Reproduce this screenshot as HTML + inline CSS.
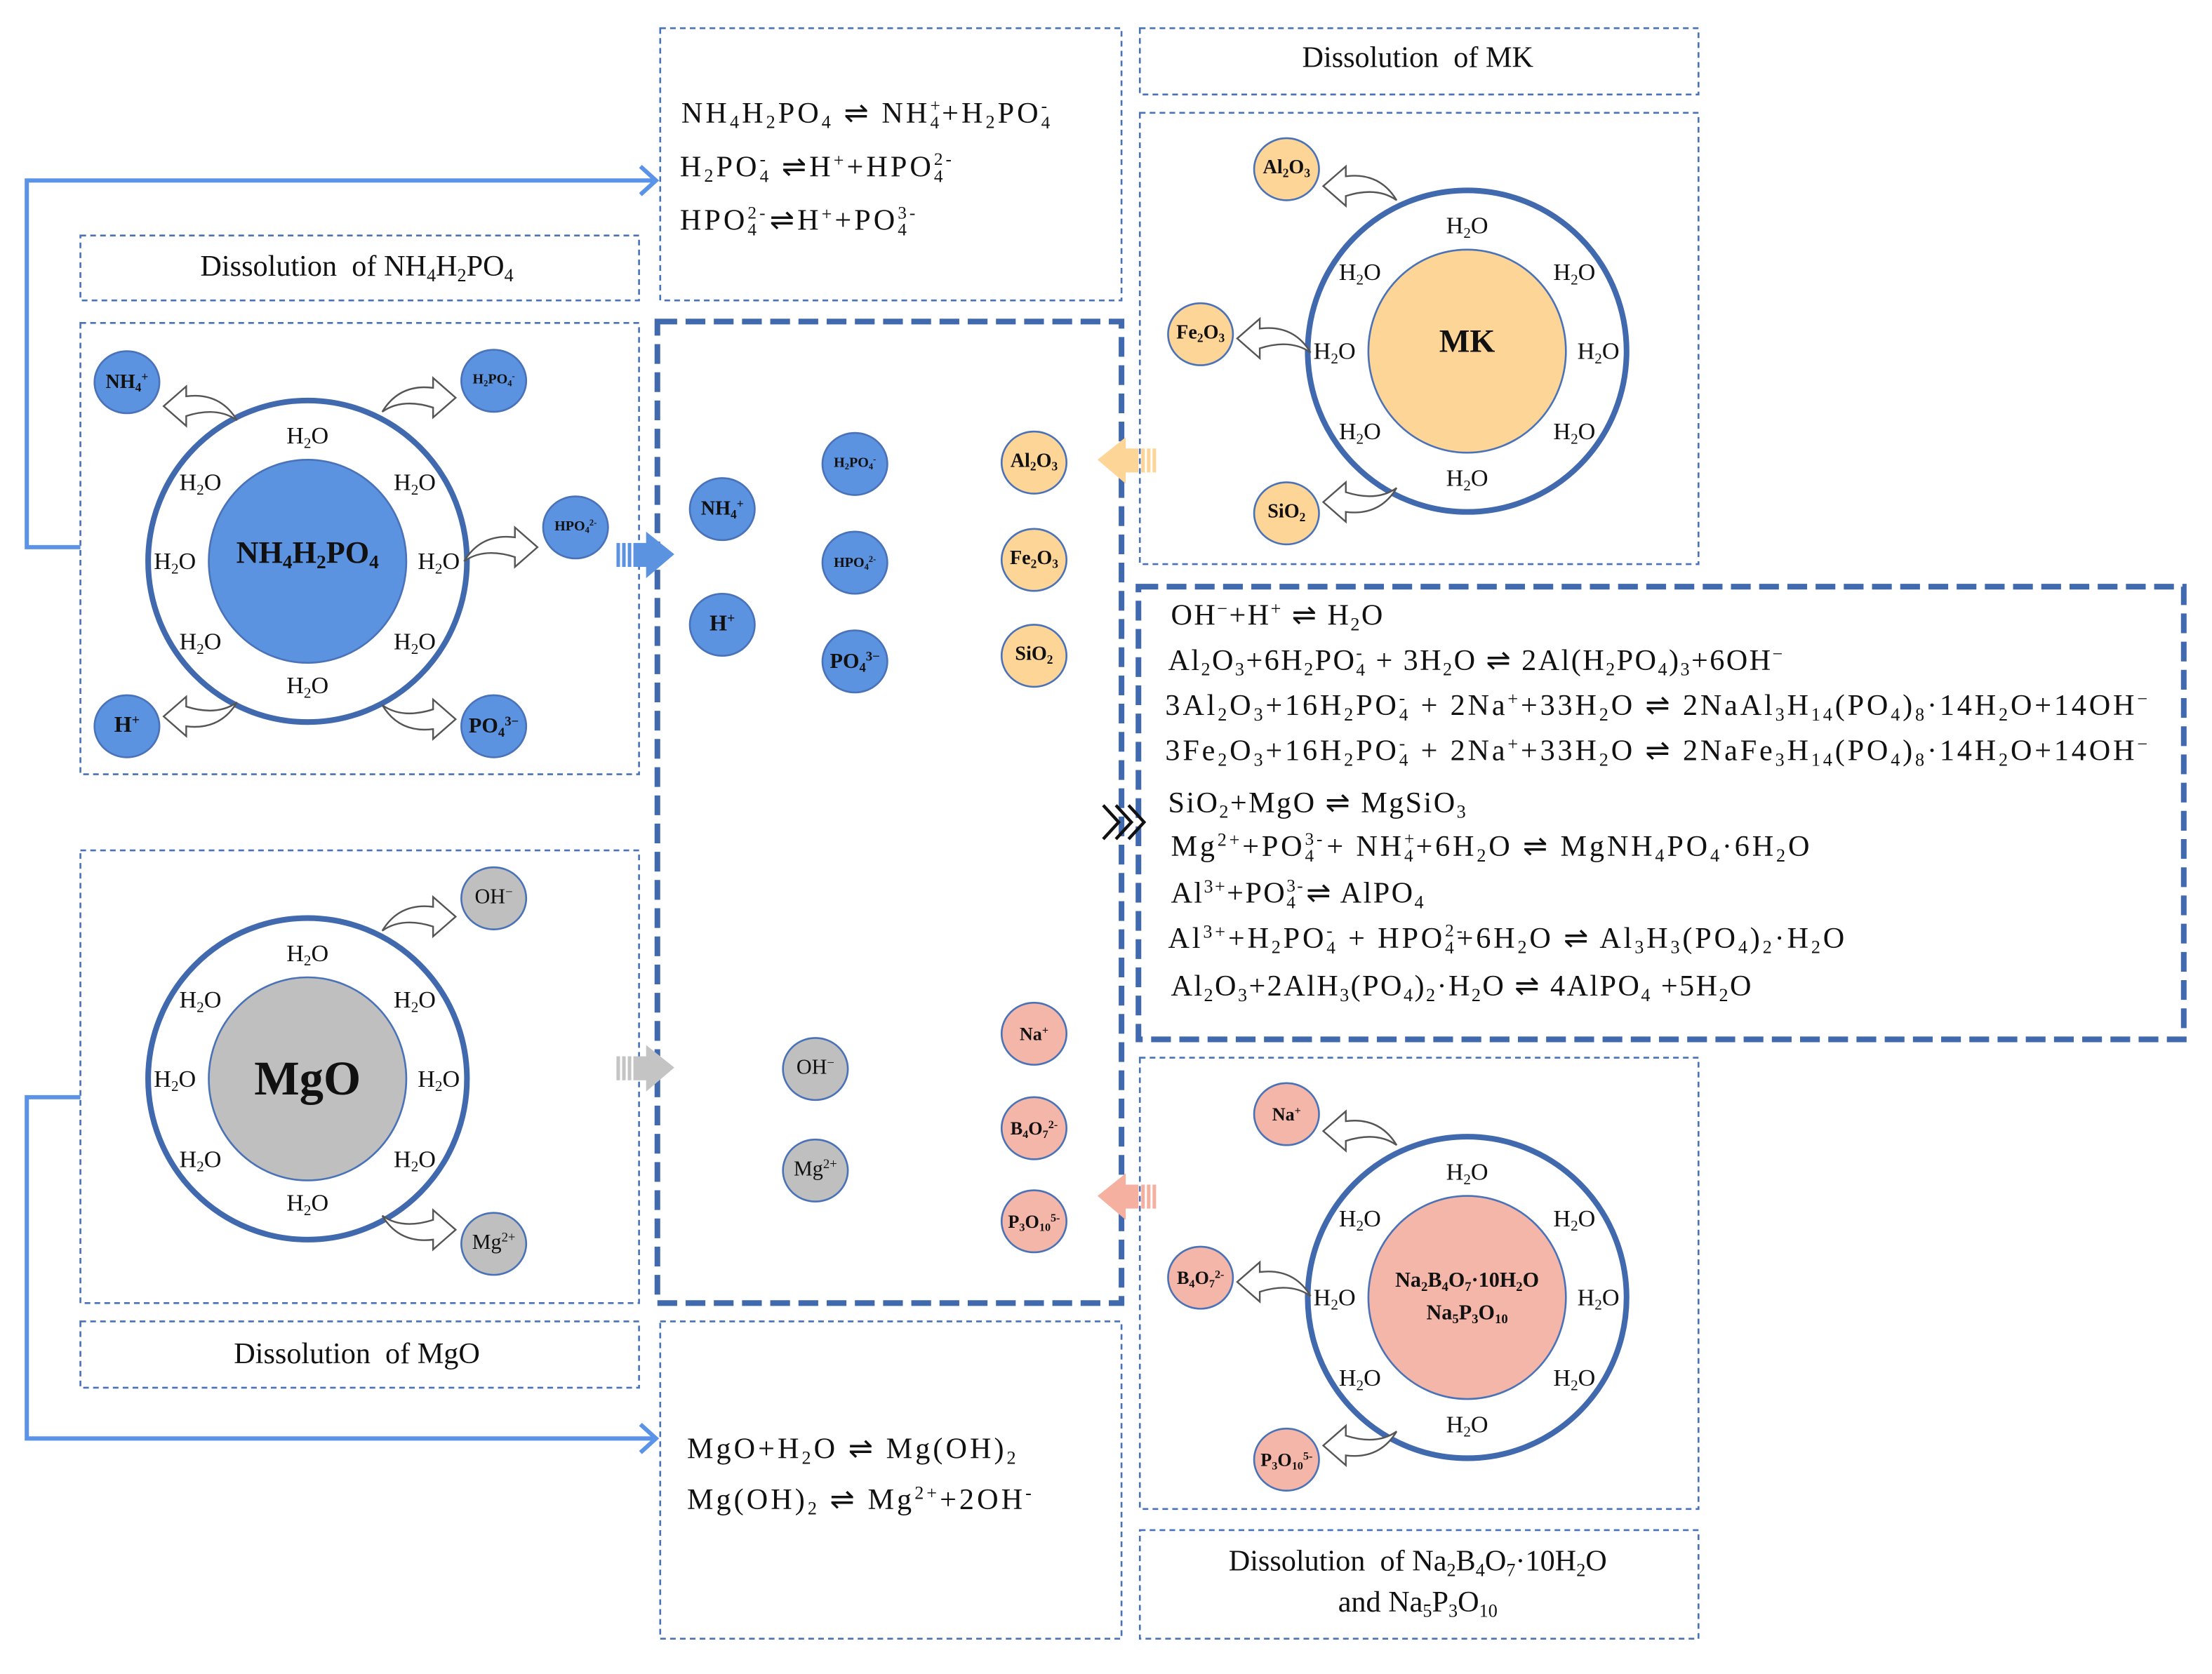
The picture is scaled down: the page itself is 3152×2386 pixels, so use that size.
<!DOCTYPE html>
<html><head><meta charset="utf-8"><style>
html,body{margin:0;padding:0;background:#fff;}
#wrap{position:relative;width:3152px;height:2386px;overflow:hidden;}
#s{position:absolute;left:0;top:0;width:1568px;height:1187px;transform:scale(2.0102,2.0101);transform-origin:0 0;font-family:"Liberation Serif",serif;color:#111;}
svg{position:absolute;left:0;top:0;}
.t{position:absolute;white-space:nowrap;line-height:1;}
.eq{font-size:21px;letter-spacing:1.2px;}
.eq.top{letter-spacing:2px;}
.eq.long{letter-spacing:1.9px;}
sub{font-size:0.62em;vertical-align:-0.3em;line-height:0;}
sup{font-size:0.62em;vertical-align:0.55em;line-height:0;}
.ss{display:inline-block;position:relative;font-size:0.6em;line-height:1;vertical-align:-0.35em;}
.ss .up{position:absolute;left:0;top:-0.95em;}
.c{position:absolute;text-align:center;white-space:nowrap;line-height:1;transform:translate(-50%,-50%);}
.h{font-size:17px;}
.ion{font-weight:bold;font-size:14px;}
.lab{font-size:21px;}
</style></head><body><div id="wrap"><div id="s">
<svg width="1560" height="1181" viewBox="0 0 1560 1181">
<defs>
<path id="ca" d="M0,0 L16,-14 L16,-7 Q40,-10 52,10 Q38,0 16,7 L16,14 Z" fill="#fff" stroke="#555" stroke-width="1.2"/>
</defs>
<g fill="none" stroke="#4A72B8" stroke-width="1.3" stroke-dasharray="4,3">
<rect x="468" y="20" width="327" height="193"/>
<rect x="808" y="20" width="396" height="47"/>
<rect x="808" y="80" width="396" height="320"/>
<rect x="57" y="167" width="396" height="46"/>
<rect x="57" y="229" width="396" height="320"/>
<rect x="57" y="603" width="396" height="321"/>
<rect x="57" y="937" width="396" height="47"/>
<rect x="468" y="937" width="327" height="225"/>
<rect x="808" y="750" width="396" height="320"/>
<rect x="808" y="1085" width="396" height="77"/>
</g>
<g fill="none" stroke="#4169AE" stroke-width="4" stroke-dasharray="14,6">
<rect x="466" y="228" width="329" height="696"/>
<rect x="807" y="416" width="741" height="321"/>
</g>
<g fill="none" stroke="#5B93E8" stroke-width="3">
<polyline points="57,388 19,388 19,128 464,128"/>
<polyline points="454,118 465,128 454,138"/>
<polyline points="57,778 19,778 19,1020 464,1020"/>
<polyline points="454,1010 465,1020 454,1030"/>
</g>
<g stroke="#4169AE" stroke-width="4" fill="#fff">
<ellipse cx="218" cy="398" rx="113" ry="114"/>
<ellipse cx="1040" cy="249" rx="113" ry="114"/>
<ellipse cx="218" cy="765" rx="113" ry="114"/>
<ellipse cx="1040" cy="920" rx="113" ry="114"/>
</g>
<g stroke="#4A72B8" stroke-width="1.3">
<ellipse cx="218" cy="398" rx="70" ry="72" fill="#5B93E0"/>
<ellipse cx="1040" cy="249" rx="70" ry="72" fill="#FDD597"/>
<ellipse cx="218" cy="765" rx="70" ry="72" fill="#BFBFBF"/>
<ellipse cx="1040" cy="920" rx="70" ry="72" fill="#F4B6A8"/>
</g>
<g stroke="#4A72B8" stroke-width="1.3">
<g fill="#5B93E0">
<ellipse cx="90" cy="271" rx="23" ry="22"/><ellipse cx="350" cy="270" rx="23" ry="22"/>
<ellipse cx="408" cy="374" rx="23" ry="22"/><ellipse cx="90" cy="515" rx="23" ry="22"/>
<ellipse cx="350" cy="515" rx="23" ry="22"/>
<ellipse cx="512" cy="361" rx="23" ry="22"/><ellipse cx="512" cy="443" rx="23" ry="22"/>
<ellipse cx="606" cy="329" rx="23" ry="22"/><ellipse cx="606" cy="399" rx="23" ry="22"/>
<ellipse cx="606" cy="469" rx="23" ry="22"/>
</g>
<g fill="#FDD597">
<ellipse cx="912" cy="120" rx="23" ry="22"/><ellipse cx="851" cy="237" rx="23" ry="22"/>
<ellipse cx="912" cy="364" rx="23" ry="22"/>
<ellipse cx="733" cy="328" rx="23" ry="22"/><ellipse cx="733" cy="397" rx="23" ry="22"/>
<ellipse cx="733" cy="465" rx="23" ry="22"/>
</g>
<g fill="#BFBFBF">
<ellipse cx="350" cy="637" rx="23" ry="22"/><ellipse cx="350" cy="882" rx="23" ry="22"/>
<ellipse cx="578" cy="758" rx="23" ry="22"/><ellipse cx="578" cy="830" rx="23" ry="22"/>
</g>
<g fill="#F4B6A8">
<ellipse cx="912" cy="790" rx="23" ry="22"/><ellipse cx="851" cy="906" rx="23" ry="22"/>
<ellipse cx="912" cy="1035" rx="23" ry="22"/>
<ellipse cx="733" cy="733" rx="23" ry="22"/><ellipse cx="733" cy="800" rx="23" ry="22"/>
<ellipse cx="733" cy="866" rx="23" ry="22"/>
</g>
</g>
<use href="#ca" transform="translate(116,288)"/>
<use href="#ca" transform="translate(116,508) scale(1,-1)"/>
<use href="#ca" transform="translate(323,282) scale(-1,1)"/>
<use href="#ca" transform="translate(381,388) scale(-1,1)"/>
<use href="#ca" transform="translate(323,510) scale(-1,-1)"/>
<use href="#ca" transform="translate(323,650) scale(-1,1)"/>
<use href="#ca" transform="translate(323,872) scale(-1,-1)"/>
<use href="#ca" transform="translate(938,132)"/>
<use href="#ca" transform="translate(877,240)"/>
<use href="#ca" transform="translate(938,356) scale(1,-1)"/>
<use href="#ca" transform="translate(938,802)"/>
<use href="#ca" transform="translate(877,909)"/>
<use href="#ca" transform="translate(938,1025) scale(1,-1)"/>
<g fill="#5B93E0">
<rect x="437" y="385" width="2.5" height="17"/><rect x="441" y="385" width="2.5" height="17"/><rect x="445" y="385" width="2.5" height="17"/>
<polygon points="449,385 458,385 458,377 478,393 458,410 458,402 449,402"/>
</g>
<g fill="#C4C4C4">
<rect x="437" y="749" width="2.5" height="17"/><rect x="441" y="749" width="2.5" height="17"/><rect x="445" y="749" width="2.5" height="17"/>
<polygon points="449,749 458,749 458,741 478,757 458,774 458,766 449,766"/>
</g>
<g fill="#FDD597">
<rect x="817" y="318" width="2.5" height="17"/><rect x="813" y="318" width="2.5" height="17"/><rect x="809" y="318" width="2.5" height="17"/>
<polygon points="807,318 798,318 798,310 778,326 798,343 798,335 807,335"/>
</g>
<g fill="#F6B0A0">
<rect x="817" y="840" width="2.5" height="17"/><rect x="813" y="840" width="2.5" height="17"/><rect x="809" y="840" width="2.5" height="17"/>
<polygon points="807,840 798,840 798,832 778,848 798,865 798,857 807,857"/>
</g>
<g fill="none" stroke="#111" stroke-width="2.2">
<polyline points="782,571 793,583 782,595"/>
<polyline points="791,571 802,583 791,595"/>
<polyline points="800,571 811,583 800,595"/>
</g>
</svg>

<div class="c lab" style="left:253px;top:189px;">Dissolution&nbsp; of NH<sub>4</sub>H<sub>2</sub>PO<sub>4</sub></div>
<div class="c lab" style="left:1005px;top:41px;">Dissolution&nbsp; of MK</div>
<div class="c lab" style="left:253px;top:960px;">Dissolution&nbsp; of MgO</div>
<div class="c lab" style="left:1005px;top:1122px;line-height:1.4;">Dissolution&nbsp; of Na<sub>2</sub>B<sub>4</sub>O<sub>7</sub>·10H<sub>2</sub>O<br>and Na<sub>5</sub>P<sub>3</sub>O<sub>10</sub></div>

<div class="t eq top" style="left:483px;top:70px;">NH<sub>4</sub>H<sub>2</sub>PO<sub>4</sub> ⇌ NH<span class="ss">4<span class="up">+</span></span>+H<sub>2</sub>PO<span class="ss">4<span class="up">-</span></span></div>
<div class="t eq top" style="left:482px;top:108px;">H<sub>2</sub>PO<span class="ss">4<span class="up">-</span></span> ⇌H<sup>+</sup>+HPO<span class="ss">4<span class="up">2-</span></span></div>
<div class="t eq top" style="left:482px;top:146px;">HPO<span class="ss">4<span class="up">2-</span></span> ⇌H<sup>+</sup>+PO<span class="ss">4<span class="up">3-</span></span></div>

<div class="t eq top" style="left:487px;top:1017px;">MgO+H<sub>2</sub>O ⇌ Mg(OH)<sub>2</sub></div>
<div class="t eq top" style="left:487px;top:1053px;">Mg(OH)<sub>2</sub> ⇌ Mg<sup>2+</sup>+2OH<sup>-</sup></div>

<div class="t eq" style="left:830px;top:426px;">OH<sup>−</sup>+H<sup>+</sup> ⇌ H<sub>2</sub>O</div>
<div class="t eq" style="left:828px;top:458px;">Al<sub>2</sub>O<sub>3</sub>+6H<sub>2</sub>PO<span class="ss">4<span class="up">-</span></span> + 3H<sub>2</sub>O ⇌ 2Al(H<sub>2</sub>PO<sub>4</sub>)<sub>3</sub>+6OH<sup>−</sup></div>
<div class="t eq long" style="left:826px;top:490px;">3Al<sub>2</sub>O<sub>3</sub>+16H<sub>2</sub>PO<span class="ss">4<span class="up">-</span></span> + 2Na<sup>+</sup>+33H<sub>2</sub>O ⇌ 2NaAl<sub>3</sub>H<sub>14</sub>(PO<sub>4</sub>)<sub>8</sub>·14H<sub>2</sub>O+14OH<sup>−</sup></div>
<div class="t eq long" style="left:826px;top:522px;">3Fe<sub>2</sub>O<sub>3</sub>+16H<sub>2</sub>PO<span class="ss">4<span class="up">-</span></span> + 2Na<sup>+</sup>+33H<sub>2</sub>O ⇌ 2NaFe<sub>3</sub>H<sub>14</sub>(PO<sub>4</sub>)<sub>8</sub>·14H<sub>2</sub>O+14OH<sup>−</sup></div>
<div class="t eq" style="left:828px;top:559px;">SiO<sub>2</sub>+MgO ⇌ MgSiO<sub>3</sub></div>
<div class="t eq long" style="left:830px;top:590px;">Mg<sup>2+</sup>+PO<span class="ss">4<span class="up">3-</span></span> + NH<span class="ss">4<span class="up">+</span></span>+6H<sub>2</sub>O ⇌ MgNH<sub>4</sub>PO<sub>4</sub>·6H<sub>2</sub>O</div>
<div class="t eq" style="left:830px;top:623px;">Al<sup>3+</sup>+PO<span class="ss">4<span class="up">3-</span></span> ⇌ AlPO<sub>4</sub></div>
<div class="t eq long" style="left:828px;top:655px;">Al<sup>3+</sup>+H<sub>2</sub>PO<span class="ss">4<span class="up">-</span></span> + HPO<span class="ss">4<span class="up">2-</span></span>+6H<sub>2</sub>O ⇌ Al<sub>3</sub>H<sub>3</sub>(PO<sub>4</sub>)<sub>2</sub>·H<sub>2</sub>O</div>
<div class="t eq" style="left:830px;top:689px;">Al<sub>2</sub>O<sub>3</sub>+2AlH<sub>3</sub>(PO<sub>4</sub>)<sub>2</sub>·H<sub>2</sub>O ⇌ 4AlPO<sub>4</sub> +5H<sub>2</sub>O</div>

<div class="c" style="left:218px;top:392px;font-weight:bold;font-size:22px;">NH<sub>4</sub>H<sub>2</sub>PO<sub>4</sub></div>
<div class="c" style="left:1040px;top:242px;font-weight:bold;font-size:23px;">MK</div>
<div class="c" style="left:218px;top:766px;font-weight:bold;font-size:34px;">MgO</div>
<div class="c" style="left:1040px;top:920px;font-weight:bold;font-size:15px;line-height:1.5;">Na<sub>2</sub>B<sub>4</sub>O<sub>7</sub>·10H<sub>2</sub>O<br>Na<sub>5</sub>P<sub>3</sub>O<sub>10</sub></div>

<div class="c h" style="left:218px;top:309px;">H<sub>2</sub>O</div><div class="c h" style="left:142px;top:342px;">H<sub>2</sub>O</div><div class="c h" style="left:294px;top:342px;">H<sub>2</sub>O</div><div class="c h" style="left:124px;top:398px;">H<sub>2</sub>O</div><div class="c h" style="left:311px;top:398px;">H<sub>2</sub>O</div><div class="c h" style="left:142px;top:455px;">H<sub>2</sub>O</div><div class="c h" style="left:294px;top:455px;">H<sub>2</sub>O</div><div class="c h" style="left:218px;top:486px;">H<sub>2</sub>O</div>
<div class="c h" style="left:1040px;top:160px;">H<sub>2</sub>O</div><div class="c h" style="left:964px;top:193px;">H<sub>2</sub>O</div><div class="c h" style="left:1116px;top:193px;">H<sub>2</sub>O</div><div class="c h" style="left:946px;top:249px;">H<sub>2</sub>O</div><div class="c h" style="left:1133px;top:249px;">H<sub>2</sub>O</div><div class="c h" style="left:964px;top:306px;">H<sub>2</sub>O</div><div class="c h" style="left:1116px;top:306px;">H<sub>2</sub>O</div><div class="c h" style="left:1040px;top:339px;">H<sub>2</sub>O</div>
<div class="c h" style="left:218px;top:676px;">H<sub>2</sub>O</div><div class="c h" style="left:142px;top:709px;">H<sub>2</sub>O</div><div class="c h" style="left:294px;top:709px;">H<sub>2</sub>O</div><div class="c h" style="left:124px;top:765px;">H<sub>2</sub>O</div><div class="c h" style="left:311px;top:765px;">H<sub>2</sub>O</div><div class="c h" style="left:142px;top:822px;">H<sub>2</sub>O</div><div class="c h" style="left:294px;top:822px;">H<sub>2</sub>O</div><div class="c h" style="left:218px;top:853px;">H<sub>2</sub>O</div>
<div class="c h" style="left:1040px;top:831px;">H<sub>2</sub>O</div><div class="c h" style="left:964px;top:864px;">H<sub>2</sub>O</div><div class="c h" style="left:1116px;top:864px;">H<sub>2</sub>O</div><div class="c h" style="left:946px;top:920px;">H<sub>2</sub>O</div><div class="c h" style="left:1133px;top:920px;">H<sub>2</sub>O</div><div class="c h" style="left:964px;top:977px;">H<sub>2</sub>O</div><div class="c h" style="left:1116px;top:977px;">H<sub>2</sub>O</div><div class="c h" style="left:1040px;top:1010px;">H<sub>2</sub>O</div>

<div class="c ion" style="left:90px;top:272px;">NH<sub>4</sub><sup>+</sup></div>
<div class="c ion" style="left:350px;top:270px;font-size:10px;">H<sub>2</sub>PO<sub>4</sub><sup>-</sup></div>
<div class="c ion" style="left:408px;top:374px;font-size:10px;">HPO<sub>4</sub><sup>2-</sup></div>
<div class="c ion" style="left:90px;top:515px;font-size:16px;">H<sup>+</sup></div>
<div class="c ion" style="left:350px;top:516px;font-size:15px;">PO<sub>4</sub><sup>3−</sup></div>
<div class="c ion" style="left:512px;top:362px;">NH<sub>4</sub><sup>+</sup></div>
<div class="c ion" style="left:512px;top:443px;font-size:16px;">H<sup>+</sup></div>
<div class="c ion" style="left:606px;top:329px;font-size:10px;">H<sub>2</sub>PO<sub>4</sub><sup>-</sup></div>
<div class="c ion" style="left:606px;top:400px;font-size:10px;">HPO<sub>4</sub><sup>2-</sup></div>
<div class="c ion" style="left:606px;top:470px;font-size:15px;">PO<sub>4</sub><sup>3−</sup></div>
<div class="c ion" style="left:912px;top:120px;">Al<sub>2</sub>O<sub>3</sub></div>
<div class="c ion" style="left:851px;top:237px;">Fe<sub>2</sub>O<sub>3</sub></div>
<div class="c ion" style="left:912px;top:364px;">SiO<sub>2</sub></div>
<div class="c ion" style="left:733px;top:328px;">Al<sub>2</sub>O<sub>3</sub></div>
<div class="c ion" style="left:733px;top:397px;">Fe<sub>2</sub>O<sub>3</sub></div>
<div class="c ion" style="left:733px;top:465px;">SiO<sub>2</sub></div>
<div class="c" style="left:350px;top:637px;font-size:15px;">OH<sup>−</sup></div>
<div class="c" style="left:350px;top:882px;font-size:15px;">Mg<sup>2+</sup></div>
<div class="c" style="left:578px;top:758px;font-size:15px;">OH<sup>−</sup></div>
<div class="c" style="left:578px;top:830px;font-size:15px;">Mg<sup>2+</sup></div>
<div class="c ion" style="left:912px;top:790px;font-size:13px;">Na<sup>+</sup></div>
<div class="c ion" style="left:851px;top:906px;font-size:13px;">B<sub>4</sub>O<sub>7</sub><sup>2-</sup></div>
<div class="c ion" style="left:912px;top:1035px;font-size:13px;">P<sub>3</sub>O<sub>10</sub><sup>5-</sup></div>
<div class="c ion" style="left:733px;top:733px;font-size:13px;">Na<sup>+</sup></div>
<div class="c ion" style="left:733px;top:800px;font-size:13px;">B<sub>4</sub>O<sub>7</sub><sup>2-</sup></div>
<div class="c ion" style="left:733px;top:866px;font-size:13px;">P<sub>3</sub>O<sub>10</sub><sup>5-</sup></div>
</div></div></body></html>
